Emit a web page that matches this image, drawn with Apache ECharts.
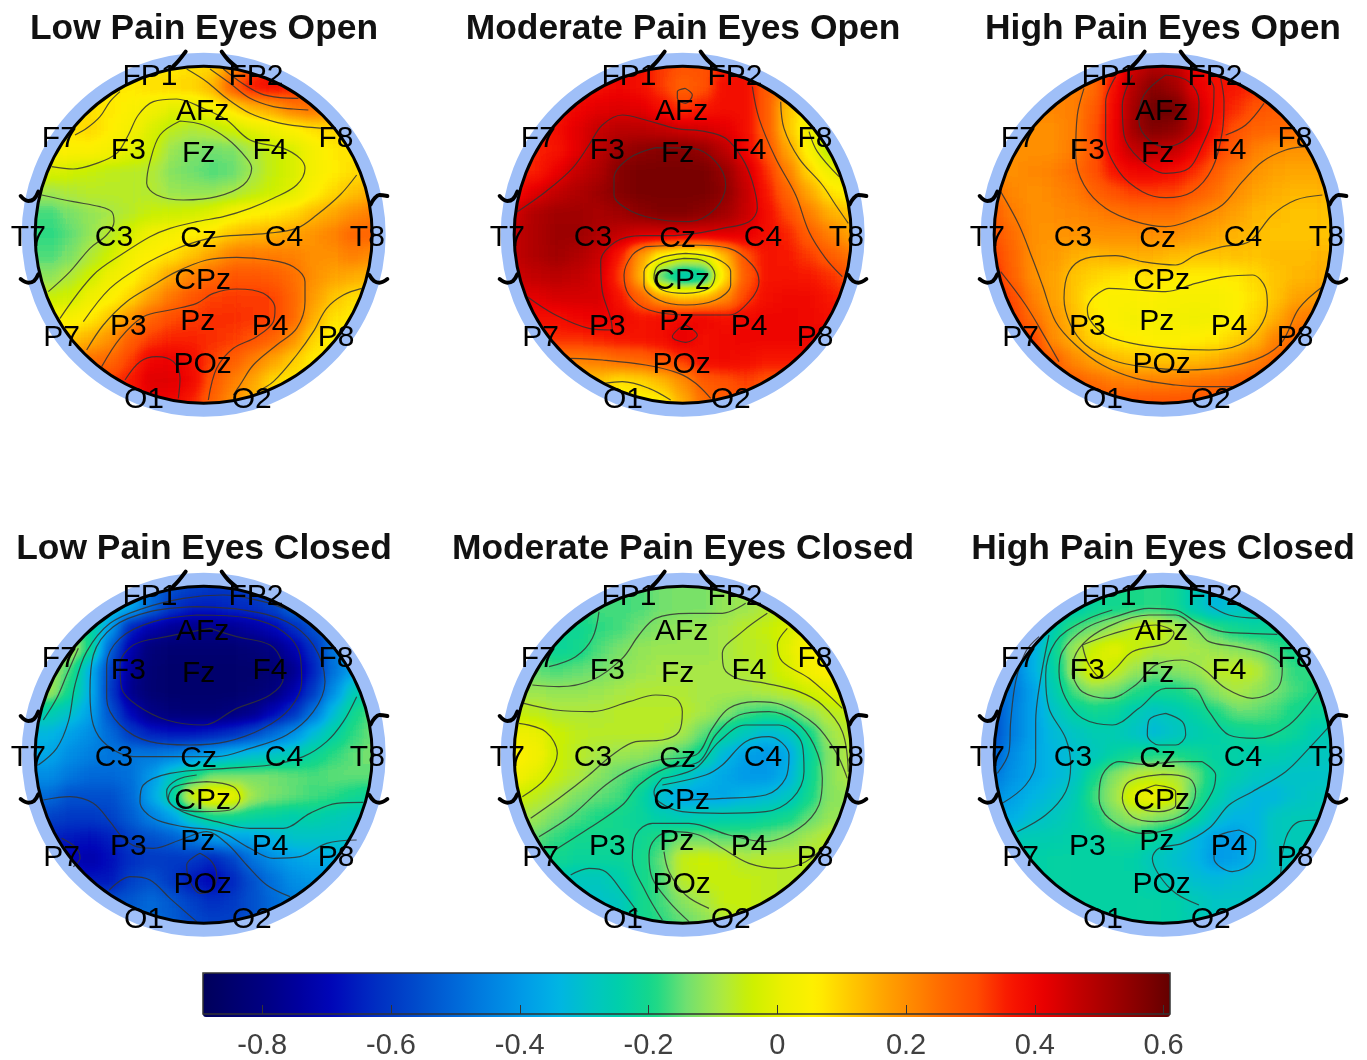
<!DOCTYPE html>
<html>
<head>
<meta charset="utf-8">
<title>EEG topoplots</title>
<script src="https://cdn.jsdelivr.net/npm/echarts@6/dist/echarts.min.js"></script>
<style>
html, body { margin: 0; padding: 0; background: #fff; }
#wrap { position: relative; width: 1367px; height: 1060px; overflow: hidden; }
#heatClip { position: absolute; left: 0; top: 0; width: 1367px; height: 1060px; }
#heat { position: absolute; left: 0; top: 0; width: 1367px; height: 1060px; filter: url(#fieldFilter); }
#main { position: absolute; left: 0; top: 0; width: 1367px; height: 1060px; }
</style>
</head>
<body>
<svg width="0" height="0" style="position:absolute">
  <filter id="fieldFilter" x="0" y="0" width="100%" height="100%" color-interpolation-filters="sRGB">
    <feGaussianBlur stdDeviation="7"></feGaussianBlur>
    <feComponentTransfer>
      <feFuncR id="funcR" type="table"></feFuncR>
      <feFuncG id="funcG" type="table"></feFuncG>
      <feFuncB id="funcB" type="table"></feFuncB>
    </feComponentTransfer>
  </filter>
</svg>
<div id="wrap">
  <div id="heatClip"><div id="heat"></div></div>
  <div id="main"></div>
</div>
<script>
var titles = ['Low Pain Eyes Open', 'Moderate Pain Eyes Open', 'High Pain Eyes Open',
              'Low Pain Eyes Closed', 'Moderate Pain Eyes Closed', 'High Pain Eyes Closed'];
var tickValues = [-0.8, -0.6, -0.4, -0.2, 0, 0.2, 0.4, 0.6];
var scaleMin = -0.892;
var scaleMax = 0.61;
// colour scale, one colour every 0.05
var scaleColors = ['#00005a','#000070','#000084','#00009f','#0006b8','#0024c0','#003cc6','#0054cf',
    '#006cda','#0084e2','#009ce8','#00b4e4','#00c4c4','#00d0a8','#18d888','#70e070','#a8e848',
    '#ccf000','#ecf000','#fff000','#ffcc00','#ffa800','#ff8800','#ff6800','#ff4c00','#f81800',
    '#ec0000','#c80000','#a80000','#880000','#640000'];

// electrode labels, x / y in the panel's own units
var sensorNames = ['FP1','FP2','AFz','F7','F3','Fz','F4','F8','T7','C3','Cz','C4','T8','CPz','P3','Pz','P4','P7','P8','POz','O1','O2'];
var sensorX = [420,738,578,148,355,566,780,978,55,312,566,822,1072,578,355,563,780,155,978,578,402,725];
var sensorY = [90,90,195,275,310,320,310,275,572,572,575,572,572,700,840,825,840,872,872,952,1058,1058];

// values, 17 x 17 samples over each head
var lowOpen = [
[.05,.05,.05,.05,.06,.06,.07,.08,.1,.2,.3,.38,.38,.35,.3,.2,.1],
[.07,.07,.07,.07,.07,.08,.09,.1,.14,.28,.36,.38,.35,.3,.25,.2,.15],
[.08,.08,.08,.07,.05,.02,0,0,.03,.08,.13,.17,.23,.25,.2,.15,.12],
[.08,.08,.09,.06,.03,-.02,-.06,-.08,-.07,-.04,-.01,.02,.05,.08,.1,.1,.1],
[.05,.05,.05,.03,0,-.04,-.1,-.13,-.14,-.13,-.09,-.05,-.02,.03,.07,.07,.07],
[-.02,-.03,-.05,-.06,-.07,-.08,-.12,-.14,-.16,-.15,-.1,-.05,-.02,.03,.06,.08,.1],
[-.1,-.08,-.07,-.07,-.07,-.08,-.1,-.11,-.11,-.09,-.07,-.04,-.01,.05,.09,.12,.15],
[-.17,-.13,-.11,-.09,-.07,-.05,-.04,-.03,-.01,.03,.05,.07,.09,.13,.16,.2,.23],
[-.18,-.15,-.11,-.07,-.02,.02,.04,.06,.08,.12,.14,.15,.17,.19,.22,.26,.27],
[-.16,-.13,-.08,-.03,.03,.05,.08,.12,.17,.22,.23,.23,.22,.2,.2,.22,.2],
[-.12,-.08,-.03,.02,.05,.1,.17,.22,.26,.29,.29,.28,.25,.2,.17,.15,.13],
[-.05,-.03,.02,.05,.1,.17,.24,.29,.32,.33,.33,.32,.26,.18,.12,.08,.08],
[.04,.04,.07,.12,.19,.27,.31,.33,.34,.34,.33,.32,.26,.15,.08,.06,.06],
[.1,.12,.15,.2,.28,.33,.35,.35,.34,.33,.3,.27,.2,.1,.05,.05,.05],
[.2,.22,.25,.26,.33,.4,.41,.38,.32,.28,.22,.17,.11,.06,.06,.06,.06],
[.3,.3,.3,.33,.36,.43,.43,.39,.29,.23,.16,.09,.07,.06,.06,.06,.06],
[.35,.35,.35,.35,.38,.4,.4,.35,.27,.2,.13,.09,.07,.06,.06,.06,.06]
];
var modOpen = [
[.35,.35,.35,.36,.38,.4,.38,.33,.3,.3,.36,.38,.3,.28,.28,.28,.28],
[.35,.35,.36,.37,.38,.4,.38,.33,.27,.3,.38,.38,.28,.2,.15,.1,.1],
[.36,.36,.37,.4,.42,.43,.42,.38,.33,.36,.38,.38,.28,.12,.05,.02,.02],
[.35,.35,.38,.42,.46,.48,.48,.47,.45,.44,.42,.38,.28,.12,.02,-.05,-.05],
[.35,.35,.37,.42,.48,.53,.55,.56,.56,.54,.48,.4,.3,.17,.05,-.07,-.07],
[.35,.35,.41,.46,.5,.56,.58,.58,.58,.58,.54,.45,.34,.22,.1,.02,0],
[.38,.43,.47,.5,.53,.56,.58,.58,.58,.58,.55,.47,.36,.27,.16,.08,.05],
[.45,.5,.52,.52,.51,.52,.55,.57,.57,.55,.52,.46,.38,.31,.23,.15,.12],
[.47,.5,.53,.53,.5,.47,.44,.44,.43,.43,.43,.42,.38,.35,.28,.22,.17],
[.47,.5,.52,.5,.46,.36,.18,.05,0,0,.13,.3,.37,.36,.33,.28,.24],
[.45,.47,.48,.47,.44,.33,.15,-.18,-.28,-.25,.08,.28,.37,.37,.36,.34,.3],
[.43,.42,.44,.44,.44,.37,.27,.17,.12,.14,.2,.32,.38,.39,.39,.36,.34],
[.38,.38,.38,.4,.41,.4,.37,.38,.39,.4,.38,.39,.4,.4,.39,.38,.38],
[.34,.34,.34,.34,.35,.36,.37,.38,.42,.38,.39,.4,.4,.4,.4,.4,.4],
[.22,.22,.22,.22,.23,.25,.26,.29,.33,.38,.39,.38,.36,.36,.36,.36,.36],
[.12,.12,.12,.12,.12,.08,.09,.13,.2,.28,.3,.32,.3,.3,.3,.3,.3],
[.05,.05,.05,.05,.05,.03,.05,.05,.15,.25,.28,.3,.3,.3,.3,.3,.3]
];
var highOpen = [
[.22,.22,.22,.22,.22,.25,.35,.45,.5,.48,.4,.38,.36,.36,.36,.36,.36],
[.22,.22,.22,.22,.22,.25,.38,.5,.56,.52,.42,.38,.36,.34,.32,.3,.3],
[.21,.21,.21,.21,.22,.28,.39,.52,.6,.6,.46,.38,.34,.3,.28,.27,.27],
[.2,.2,.2,.2,.22,.29,.4,.53,.57,.55,.47,.37,.3,.27,.26,.25,.25],
[.2,.2,.2,.2,.23,.3,.4,.47,.48,.46,.4,.33,.28,.22,.2,.19,.19],
[.2,.2,.21,.22,.25,.3,.37,.4,.4,.38,.34,.28,.23,.19,.17,.16,.16],
[.25,.21,.2,.21,.23,.27,.3,.33,.33,.32,.28,.25,.2,.17,.15,.14,.14],
[.28,.23,.2,.2,.21,.22,.24,.25,.25,.25,.22,.2,.17,.14,.13,.12,.12],
[.3,.25,.2,.19,.19,.2,.2,.2,.2,.2,.18,.16,.14,.13,.12,.12,.12],
[.33,.26,.2,.18,.15,.14,.15,.15,.15,.13,.12,.12,.12,.12,.13,.13,.14],
[.36,.27,.2,.17,.12,.1,.08,.07,.08,.07,.06,.06,.06,.09,.12,.14,.15],
[.38,.31,.22,.17,.12,.06,.05,.05,.05,.04,.04,.04,.05,.08,.12,.17,.18],
[.38,.33,.25,.19,.13,.07,.05,.03,.03,.03,.02,.03,.05,.1,.15,.22,.24],
[.38,.36,.33,.2,.15,.1,.07,.06,.05,.05,.06,.07,.1,.14,.22,.26,.26],
[.36,.34,.32,.28,.21,.17,.14,.12,.12,.12,.13,.15,.18,.22,.26,.28,.28],
[.34,.33,.32,.3,.28,.25,.23,.22,.22,.23,.24,.25,.27,.28,.3,.3,.3],
[.32,.32,.32,.32,.3,.3,.3,.3,.3,.3,.3,.3,.3,.3,.3,.3,.3]
];
var lowClosed = [
[-.2,-.2,-.25,-.3,-.36,-.5,-.55,-.58,-.6,-.6,-.58,-.55,-.5,-.5,-.5,-.5,-.5],
[-.15,-.15,-.2,-.3,-.36,-.5,-.6,-.65,-.65,-.63,-.62,-.58,-.5,-.45,-.45,-.45,-.45],
[-.12,-.12,-.22,-.4,-.65,-.72,-.76,-.78,-.78,-.77,-.74,-.7,-.63,-.55,-.5,-.45,-.45],
[-.08,-.08,-.2,-.52,-.72,-.82,-.84,-.84,-.84,-.84,-.83,-.8,-.72,-.62,-.47,-.4,-.38],
[-.1,-.17,-.35,-.58,-.76,-.84,-.85,-.85,-.85,-.85,-.85,-.84,-.78,-.65,-.48,-.38,-.3],
[-.1,-.2,-.35,-.6,-.78,-.84,-.85,-.85,-.85,-.85,-.84,-.81,-.73,-.6,-.42,-.27,-.22],
[-.25,-.3,-.38,-.55,-.7,-.79,-.82,-.83,-.83,-.81,-.78,-.7,-.62,-.48,-.32,-.2,-.15],
[-.33,-.38,-.42,-.5,-.6,-.65,-.67,-.67,-.65,-.62,-.57,-.5,-.42,-.32,-.24,-.18,-.14],
[-.37,-.42,-.45,-.47,-.47,-.47,-.45,-.42,-.38,-.34,-.31,-.29,-.27,-.22,-.18,-.15,-.14],
[-.42,-.47,-.5,-.5,-.48,-.4,-.28,-.2,-.14,-.14,-.14,-.14,-.15,-.16,-.15,-.15,-.15],
[-.5,-.55,-.55,-.55,-.5,-.37,-.24,-.03,.04,.02,-.1,-.13,-.15,-.17,-.18,-.2,-.22],
[-.58,-.6,-.6,-.58,-.52,-.45,-.38,-.26,-.2,-.2,-.22,-.23,-.25,-.24,-.26,-.28,-.28],
[-.65,-.66,-.68,-.65,-.58,-.55,-.52,-.47,-.4,-.38,-.37,-.34,-.3,-.3,-.3,-.3,-.3],
[-.7,-.7,-.72,-.68,-.62,-.6,-.6,-.6,-.64,-.58,-.48,-.42,-.38,-.36,-.35,-.35,-.35],
[-.65,-.65,-.66,-.66,-.58,-.55,-.6,-.66,-.7,-.64,-.55,-.48,-.42,-.4,-.4,-.4,-.4],
[-.55,-.55,-.55,-.55,-.53,-.5,-.53,-.58,-.62,-.6,-.55,-.5,-.45,-.45,-.45,-.45,-.45],
[-.5,-.5,-.5,-.5,-.5,-.5,-.52,-.56,-.58,-.58,-.55,-.5,-.48,-.48,-.48,-.48,-.48]
];
var modClosed = [
[-.18,-.18,-.18,-.18,-.17,-.17,-.16,-.14,-.13,-.13,-.11,-.1,-.08,-.06,-.06,-.06,-.06],
[-.18,-.18,-.18,-.18,-.17,-.17,-.16,-.14,-.13,-.13,-.11,-.1,-.08,-.05,-.04,-.04,-.04],
[-.2,-.2,-.21,-.21,-.18,-.17,-.14,-.12,-.11,-.1,-.09,-.07,-.05,-.02,.02,.02,.02],
[-.17,-.17,-.22,-.2,-.16,-.13,-.11,-.1,-.1,-.1,-.09,-.07,-.06,-.01,.05,.05,.05],
[-.15,-.15,-.16,-.15,-.14,-.12,-.1,-.09,-.09,-.09,-.09,-.08,-.06,-.02,.03,.06,.06],
[-.09,-.1,-.11,-.11,-.1,-.09,-.08,-.08,-.08,-.09,-.09,-.09,-.08,-.06,-.03,0,.02],
[-.05,-.06,-.08,-.08,-.08,-.07,-.07,-.07,-.07,-.09,-.12,-.16,-.18,-.16,-.11,-.07,-.05],
[.02,.01,-.04,-.06,-.07,-.07,-.07,-.07,-.09,-.15,-.22,-.28,-.32,-.3,-.2,-.1,-.07],
[.06,.03,-.04,-.07,-.09,-.1,-.11,-.13,-.17,-.22,-.33,-.38,-.4,-.37,-.23,-.12,-.08],
[.03,0,-.05,-.08,-.12,-.15,-.18,-.22,-.27,-.33,-.37,-.4,-.4,-.35,-.22,-.12,-.08],
[-.03,-.06,-.09,-.13,-.15,-.17,-.22,-.32,-.37,-.37,-.37,-.34,-.32,-.29,-.2,-.12,-.1],
[-.08,-.1,-.14,-.17,-.19,-.2,-.22,-.25,-.27,-.26,-.25,-.24,-.22,-.2,-.15,-.11,-.1],
[-.13,-.15,-.18,-.2,-.2,-.2,-.21,-.18,-.14,-.14,-.15,-.15,-.14,-.12,-.09,-.07,-.07],
[-.18,-.2,-.2,-.22,-.22,-.22,-.2,-.15,-.05,-.04,-.05,-.08,-.07,-.07,-.07,-.07,-.07],
[-.25,-.26,-.27,-.28,-.28,-.25,-.2,-.16,-.07,-.05,-.05,-.05,-.06,-.07,-.07,-.07,-.07],
[-.28,-.28,-.29,-.3,-.3,-.28,-.2,-.17,-.12,-.09,-.05,-.05,-.06,-.06,-.06,-.06,-.06],
[-.28,-.28,-.28,-.3,-.3,-.28,-.2,-.18,-.15,-.12,-.08,-.06,-.06,-.06,-.06,-.06,-.06]
];
var highClosed = [
[-.3,-.3,-.3,-.28,-.27,-.22,-.2,-.19,-.18,-.2,-.27,-.33,-.3,-.28,-.25,-.25,-.25],
[-.35,-.35,-.35,-.3,-.27,-.22,-.2,-.19,-.18,-.2,-.27,-.33,-.3,-.28,-.25,-.25,-.25],
[-.42,-.42,-.42,-.25,-.17,-.14,-.1,-.05,-.03,-.08,-.12,-.17,-.2,-.22,-.22,-.22,-.22],
[-.44,-.44,-.35,-.22,-.1,-.04,0,-.05,-.08,-.08,-.09,-.1,-.12,-.13,-.17,-.2,-.2],
[-.46,-.45,-.35,-.24,-.1,0,-.05,-.1,-.14,-.12,-.11,-.07,-.06,-.07,-.14,-.18,-.18],
[-.5,-.46,-.38,-.26,-.16,-.12,-.14,-.18,-.2,-.2,-.17,-.12,-.09,-.11,-.14,-.17,-.19],
[-.55,-.45,-.38,-.3,-.24,-.21,-.22,-.26,-.29,-.27,-.23,-.19,-.15,-.15,-.17,-.2,-.22],
[-.55,-.45,-.38,-.32,-.29,-.26,-.26,-.29,-.32,-.29,-.26,-.24,-.22,-.21,-.2,-.22,-.26],
[-.52,-.42,-.37,-.33,-.31,-.28,-.23,-.2,-.19,-.19,-.21,-.23,-.24,-.25,-.25,-.27,-.28],
[-.47,-.41,-.37,-.33,-.3,-.2,-.12,-.08,-.07,-.08,-.14,-.22,-.25,-.28,-.3,-.3,-.3],
[-.42,-.38,-.34,-.31,-.27,-.17,-.1,0,.02,-.03,-.17,-.24,-.3,-.33,-.33,-.3,-.28],
[-.36,-.35,-.31,-.28,-.25,-.2,-.14,-.1,-.12,-.14,-.22,-.3,-.34,-.34,-.28,-.27,-.27],
[-.28,-.27,-.26,-.25,-.24,-.23,-.21,-.2,-.22,-.27,-.33,-.38,-.39,-.34,-.28,-.27,-.27],
[-.25,-.25,-.24,-.23,-.23,-.23,-.23,-.24,-.28,-.31,-.33,-.39,-.38,-.33,-.29,-.28,-.28],
[-.24,-.24,-.24,-.23,-.23,-.23,-.23,-.23,-.26,-.28,-.31,-.32,-.31,-.3,-.3,-.3,-.3],
[-.23,-.23,-.23,-.23,-.23,-.23,-.23,-.23,-.23,-.24,-.27,-.29,-.29,-.29,-.29,-.29,-.29],
[-.23,-.23,-.23,-.23,-.23,-.23,-.23,-.23,-.23,-.24,-.26,-.28,-.28,-.28,-.28,-.28,-.28]
];
var panelValues = [lowOpen, modOpen, highOpen, lowClosed, modClosed, highClosed];

// contour lines
var lowOpenLines = [
[[530,72],[590,110],[650,160],[720,205],[800,232],[880,245],[940,250]],
[[600,72],[660,115],[720,160],[790,185],[850,192],[895,195]],
[[640,72],[690,110],[750,145],[810,158],[865,160]],
[[330,140],[300,170],[270,215],[230,250],[195,270]],
[[125,365],[190,372],[260,355],[320,325],[355,270],[385,210],[430,170],[500,162],[580,190],[650,225],[720,285],[820,310],[870,340],[885,370],[860,420],[790,460],[720,490],[640,515],[560,530],[480,550],[420,575],[340,625],[250,690],[150,820]],
[[510,228],[580,240],[650,280],[710,340],[725,370],[700,420],[620,455],[520,465],[440,450],[410,415],[420,350],[450,270],[510,228]],
[[95,450],[190,470],[270,485],[305,500],[312,530],[290,570],[240,610],[180,680],[115,740]],
[[1040,390],[990,450],[920,510],[860,550],[770,565],[630,575],[560,590],[490,615],[400,660],[300,730],[220,830]],
[[230,915],[280,840],[350,770],[430,720],[500,680],[590,645],[680,637],[780,645],[850,665],[885,710],[885,770],[860,850],[800,900],[730,960],[690,1020],[670,1050]],
[[275,965],[330,880],[400,815],[480,795],[560,775],[610,745],[680,732],[760,745],[795,790],[790,830],[740,875],[670,910],[620,970],[595,1065]],
[[345,1005],[390,950],[440,935],[490,950],[510,1000],[505,1060]],
[[1055,730],[1000,750],[950,790],[910,860],[860,930],[790,1010],[740,1040]]
];
var modOpenLines = [
[[588,130],[610,150],[590,175],[565,160],[565,140],[588,130]],
[[85,500],[170,440],[250,370],[300,300],[340,240],[400,210],[470,225],[560,250],[650,260],[710,280],[760,340],[790,410],[805,490],[780,530],[700,550],[620,565],[540,572],[460,572],[380,590],[335,650],[340,740],[365,820],[370,855],[300,850],[200,810],[115,755]],
[[500,308],[610,310],[680,350],[710,420],[680,490],[600,530],[520,525],[430,500],[375,450],[375,400],[420,340],[500,308]],
[[470,605],[600,600],[720,610],[790,660],[810,710],[780,770],[720,810],[600,810],[480,795],[420,750],[405,690],[430,630],[470,605]],
[[590,625],[680,640],[725,680],[725,720],[680,765],[590,780],[510,765],[465,720],[465,680],[510,640],[590,625]],
[[585,640],[650,650],[678,690],[660,730],[590,745],[520,735],[495,700],[510,660],[585,640]],
[[590,840],[625,870],[590,892],[550,875],[570,850],[590,840]],
[[790,125],[810,220],[860,340],[920,450],[960,560],[1010,640],[1060,695]],
[[875,170],[885,250],[930,340],[1000,420],[1040,480],[1078,535]],
[[960,260],[985,320],[1050,395]],
[[245,940],[340,945],[470,960],[570,985],[620,1015],[665,1060]],
[[345,1015],[400,1010],[480,1030],[545,1065]]
];
var highOpenLines = [
[[345,130],[325,210],[320,330],[345,420],[410,490],[500,530],[590,545],[680,520],[760,480],[820,410],[880,350],[950,315],[1010,305]],
[[440,95],[410,170],[410,280],[450,380],[520,440],[590,458],[670,440],[730,370],[760,260],[765,170],[755,100]],
[[490,90],[460,180],[465,270],[510,340],[590,385],[660,370],[700,300],[730,220],[735,130],[720,100]],
[[590,90],[660,110],[690,170],[680,250],[640,290],[590,305],[540,285],[510,230],[525,150],[590,90]],
[[95,440],[150,540],[190,640],[220,720],[260,830],[320,900],[400,960],[500,1000],[620,1020],[700,1025],[790,1025]],
[[95,680],[170,780],[230,880],[270,950]],
[[1060,450],[980,465],[910,510],[840,590],[760,605],[680,630],[620,660],[520,650],[440,632],[350,640],[300,680],[285,760],[305,840],[350,900],[430,945],[520,965],[650,975],[780,965],[880,935],[940,890],[990,790],[1060,725]],
[[370,760],[420,730],[500,735],[590,740],[680,715],[770,695],[850,690],[890,730],[895,780],[870,850],[810,900],[720,915],[600,910],[490,895],[410,870],[360,820],[355,790],[370,760]],
[[885,175],[830,240],[770,270]]
];
var lowClosedLines = [
[[85,600],[140,550],[175,470],[195,360],[230,260],[300,175],[400,130],[520,100],[640,90],[760,110],[820,130]],
[[1040,395],[1000,470],[950,530],[880,575],[780,600],[650,610],[480,625],[400,660],[390,710],[430,760],[520,785],[630,800],[720,850],[790,880],[870,875],[950,835],[1040,825]],
[[560,125],[700,135],[830,170],[910,240],[945,350],[910,440],[830,510],[720,550],[620,575],[480,575],[370,575],[290,540],[250,480],[240,380],[250,270],[310,185],[420,140],[560,125]],
[[560,150],[720,160],[820,200],[870,270],[875,350],[840,430],[760,490],[650,530],[540,540],[420,530],[330,480],[290,400],[290,300],[330,220],[430,170],[560,150]],
[[600,190],[680,215],[780,240],[815,290],[820,340],[780,390],[680,430],[580,480],[470,465],[380,420],[335,370],[330,300],[370,240],[470,215],[600,190]],
[[590,650],[670,665],[690,700],[660,735],[580,740],[500,730],[475,700],[495,665],[590,650]],
[[1060,712],[980,715],[900,745],[820,790],[720,790],[620,770],[530,745],[480,715],[470,680],[500,645],[560,630]],
[[100,705],[180,695],[250,715],[300,770],[340,820],[380,845],[430,850],[510,825],[590,800],[650,835],[710,900],[770,960],[840,995]],
[[155,820],[200,850],[210,880],[190,905]],
[[570,865],[605,890],[620,930],[605,975],[570,985],[540,950],[530,900],[570,865]],
[[298,975],[360,935],[420,945],[480,1000],[560,1070]],
[[100,465],[140,400],[170,330],[205,250]]
];
var modClosedLines = [
[[330,140],[310,220],[260,275],[180,305]],
[[130,360],[210,365],[310,345],[400,280],[450,210],[500,160],[600,145],[700,145],[770,115]],
[[105,415],[200,435],[310,440],[420,410],[500,390],[560,400],[580,440],[570,500],[520,525],[440,530],[370,570],[300,630],[210,700],[125,760]],
[[150,815],[250,750],[350,660],[430,610],[510,585],[620,570],[670,490],[720,430],[800,410],[880,420],[980,480],[1040,560],[1075,640]],
[[190,860],[300,790],[400,720],[450,660],[530,610],[630,590],[680,510],[750,450],[840,440],[920,470],[975,540],[1000,640],[990,720],[930,790],[830,830],[720,810],[600,775],[490,775],[440,810],[430,880],[470,980],[520,1065]],
[[520,640],[620,610],[690,530],[770,480],[870,480],[940,540],[945,620],[910,700],[830,740],[700,745],[580,740],[510,710],[495,680],[520,640]],
[[520,660],[650,630],[700,600],[770,530],[840,515],[900,570],[890,640],[830,690],[700,700],[590,705]],
[[100,695],[170,640],[205,565],[170,500],[90,475]],
[[835,145],[760,200],[700,265],[705,310],[745,340],[830,355],[930,380],[1000,420],[1060,500],[1078,620]],
[[895,190],[865,240],[880,290],[960,340],[1060,430]],
[[245,930],[300,910],[350,920],[400,980],[445,1040]],
[[600,1070],[540,1010],[490,940],[480,870],[500,820],[550,800],[630,810],[700,850],[780,895],[870,910],[950,890],[1020,830]],
[[660,1030],[590,990],[540,920],[525,860]]
];
var highClosedLines = [
[[85,625],[120,560],[125,470],[140,350],[170,260],[210,215]],
[[100,715],[170,660],[200,590],[200,470],[215,340],[240,210]],
[[145,800],[230,750],[290,680],[305,600],[290,520],[240,430],[230,330],[260,230],[340,170],[430,135]],
[[1080,485],[1020,550],[950,620],[850,680],[780,720],[720,790],[640,835],[570,850],[550,880],[570,930],[620,985],[690,1020]],
[[925,208],[840,205],[760,200],[680,170],[620,135],[540,130],[440,155],[350,190],[280,260],[270,320],[290,400],[340,460],[430,480],[510,430],[590,370],[670,370],[720,440],[780,510],[860,520],[960,480],[1045,380]],
[[310,330],[340,380],[420,400],[500,360],[560,300],[640,285],[700,310],[770,370],[850,400],[925,370],[940,310],[900,270],[800,245],[720,230],[680,190],[620,150],[540,150],[440,175],[360,220],[315,280],[310,330]],
[[340,240],[420,210],[490,190],[560,180],[615,205],[590,235],[490,260],[440,310],[400,340],[360,300],[340,240]],
[[590,445],[640,470],[650,510],[620,540],[570,540],[535,510],[540,465],[590,445]],
[[700,590],[640,590],[520,598],[450,590],[400,630],[390,700],[420,760],[520,805],[610,790],[680,750],[730,680],[740,630],[700,590]],
[[580,628],[660,640],[680,680],[650,745],[560,770],[490,755],[460,700],[480,650],[580,628]],
[[560,660],[620,680],[620,720],[570,740],[510,725],[505,690],[560,660]],
[[810,795],[860,830],[850,890],[790,920],[735,880],[740,820],[810,795]],
[[935,930],[950,820],[990,770],[1045,765]],
[[720,120],[780,150],[870,160]]
];
var panelLines = [lowOpenLines, modOpenLines, highOpenLines, lowClosedLines, modClosedLines, highClosedLines];

// nose and ears of the head outline
var headMarks = [
[[527,20],[505,48],[488,66]],
[[635,20],[655,45],[680,66]],
[[32,453],[55,468],[72,462],[85,440]],
[[32,702],[55,713],[72,708],[85,688]],
[[1132,453],[1108,450],[1092,462],[1082,478]],
[[1132,702],[1108,713],[1092,708],[1078,690]]
];

var panelX = [10, 489, 969, 10, 489, 969];
var panelY = [45, 45, 45, 565, 565, 565];
var cellCount = 17;
var cellSize = 21;
var edgePad = 2;   // repeats the border samples so the blur does not fade at the rim

// field is drawn in grey, blurred, and only then coloured by the svg filter
var setupFilter = function() {
    var chan = [[], [], []];
    scaleColors.forEach(function(c) {
        chan[0].push((parseInt(c.substr(1, 2), 16) / 255).toFixed(3));
        chan[1].push((parseInt(c.substr(3, 2), 16) / 255).toFixed(3));
        chan[2].push((parseInt(c.substr(5, 2), 16) / 255).toFixed(3));
    });
    document.getElementById('funcR').setAttribute('tableValues', chan[0].join(' '));
    document.getElementById('funcG').setAttribute('tableValues', chan[1].join(' '));
    document.getElementById('funcB').setAttribute('tableValues', chan[2].join(' '));
};

var renderHeat = function() {
    var heat = echarts.init(document.getElementById('heat'), null, { renderer: 'canvas' });
    var grids = [], xAxes = [], yAxes = [], series = [];
    var span = cellCount + edgePad * 2;
    var cats = [];
    for (var c = 0; c < span; c++) { cats.push(c); }

    panelValues.forEach(function(rows, p) {
        var cx = panelX[p] + 581 / 3;
        var cy = panelY[p] + 569 / 3;
        var data = [];
        for (var j = 0; j < span; j++) {
            for (var i = 0; i < span; i++) {
                var r = Math.min(cellCount - 1, Math.max(0, j - edgePad));
                var q = Math.min(cellCount - 1, Math.max(0, i - edgePad));
                data.push([i, j, rows[r][q]]);
            }
        }
        grids.push({ left: cx - span * cellSize / 2, top: cy - span * cellSize / 2, width: span * cellSize, height: span * cellSize });
        xAxes.push({ type: 'category', gridIndex: p, data: cats, show: false });
        yAxes.push({ type: 'category', gridIndex: p, data: cats, show: false, inverse: true });
        series.push({ type: 'heatmap', xAxisIndex: p, yAxisIndex: p, data: data, silent: true, itemStyle: { borderWidth: 0 } });
    });

    heat.setOption({
        animation: false,
        grid: grids,
        xAxis: xAxes,
        yAxis: yAxes,
        visualMap: {
            show: false, min: scaleMin, max: scaleMax, dimension: 2,
            seriesIndex: [0, 1, 2, 3, 4, 5],
            inRange: { color: ['#000000', '#ffffff'] }
        },
        series: series
    });

    // only the inside of each head shows the field
    var path = '';
    var rad = 168;
    panelX.forEach(function(x, p) {
        var cx = x + 581 / 3, cy = panelY[p] + 569 / 3;
        path += 'M ' + (cx - rad) + ' ' + cy + ' a ' + rad + ' ' + rad + ' 0 1 0 ' + (2 * rad) + ' 0 a ' + rad + ' ' + rad + ' 0 1 0 ' + (-2 * rad) + ' 0 Z ';
    });
    document.getElementById('heatClip').style.clipPath = 'path("' + path + '")';
};

var renderMain = function() {
    var chart = echarts.init(document.getElementById('main'), null, { renderer: 'canvas' });
    var grids = [], xAxes = [], yAxes = [], series = [], titleList = [];
    var sensorData = sensorNames.map(function(n, i) { return { name: n, value: [sensorX[i], sensorY[i]] }; });

    panelX.forEach(function(x, p) {
        grids.push({ left: x, top: panelY[p], width: 390, height: 380 });
        xAxes.push({ type: 'value', gridIndex: p, min: 0, max: 1170, show: false });
        yAxes.push({ type: 'value', gridIndex: p, min: 0, max: 1140, inverse: true, show: false });

        titleList.push({
            text: titles[p],
            left: x + 194,
            top: panelY[p] - 15.5,
            textAlign: 'center',
            textVerticalAlign: 'middle',
            padding: 0,
            textStyle: { fontFamily: 'Liberation Sans', fontWeight: 'bold', fontSize: 35.4, color: '#111' }
        });

        // light blue band and head circle
        series.push({
            type: 'scatter', xAxisIndex: p, yAxisIndex: p, silent: true, clip: false, z: 1,
            data: [[581, 569]], symbol: 'circle', symbolSize: 350,
            itemStyle: { color: 'transparent', borderColor: '#9fbff8', borderWidth: 14, opacity: 1 }
        });
        series.push({
            type: 'scatter', xAxisIndex: p, yAxisIndex: p, silent: true, clip: false, z: 5,
            data: [[581, 569]], symbol: 'circle', symbolSize: 337,
            itemStyle: { color: 'transparent', borderColor: '#000', borderWidth: 3, opacity: 1 }
        });

        panelLines[p].forEach(function(line) {
            series.push({
                type: 'line', xAxisIndex: p, yAxisIndex: p, silent: true, clip: false, z: 3,
                data: line, smooth: 0.35, showSymbol: false,
                lineStyle: { color: '#333', width: 1.2, opacity: 0.85 }
            });
        });

        headMarks.forEach(function(mark) {
            series.push({
                type: 'line', xAxisIndex: p, yAxisIndex: p, silent: true, clip: false, z: 6,
                data: mark, smooth: 0.4, showSymbol: false,
                lineStyle: { color: '#000', width: 4, cap: 'round' }
            });
        });

        series.push({
            type: 'scatter', xAxisIndex: p, yAxisIndex: p, silent: true, clip: false, z: 8,
            data: sensorData, symbolSize: 0,
            itemStyle: { opacity: 1 },
            label: {
                show: true, position: 'inside', formatter: '{b}', distance: 0, offset: [0, 2],
                fontFamily: 'Liberation Sans', fontSize: 30, color: '#000'
            }
        });
    });

    // colorbar axis
    grids.push({ left: 203, top: 973, width: 967, height: 44, show: true, borderColor: '#333', borderWidth: 1.5, backgroundColor: 'transparent', z: 6 });
    xAxes.push({
        type: 'value', gridIndex: 6, min: scaleMin, max: scaleMax,
        axisLine: { show: false },
        splitLine: { show: false },
        axisTick: { show: true, inside: true, length: 9, customValues: tickValues, lineStyle: { color: '#333', width: 1 } },
        axisLabel: {
            show: true, customValues: tickValues, margin: 17,
            fontFamily: 'Liberation Sans', fontSize: 29, color: '#404040',
            formatter: function(v) { return String(v); }
        },
        z: 7
    });
    yAxes.push({ type: 'value', gridIndex: 6, min: 0, max: 1, show: false });
    series.push({ type: 'scatter', xAxisIndex: 6, yAxisIndex: 6, data: [], silent: true });

    chart.setOption({
        animation: false,
        title: titleList,
        grid: grids,
        xAxis: xAxes,
        yAxis: yAxes,
        visualMap: {
            type: 'continuous', show: true, orient: 'horizontal',
            left: 203, top: 973, itemWidth: 44, itemHeight: 967, padding: 0,
            min: scaleMin, max: scaleMax, calculable: false, realtime: false,
            text: null, showLabel: false, hoverLink: false,
            seriesIndex: series.length - 1,
            inRange: { color: scaleColors },
            textStyle: { color: 'transparent', fontSize: 1 },
            formatter: function() { return ''; }
        },
        series: series
    });
};

var init = function() {
    setupFilter();
    renderHeat();
    renderMain();
};

init();
</script>
</body>
</html>
